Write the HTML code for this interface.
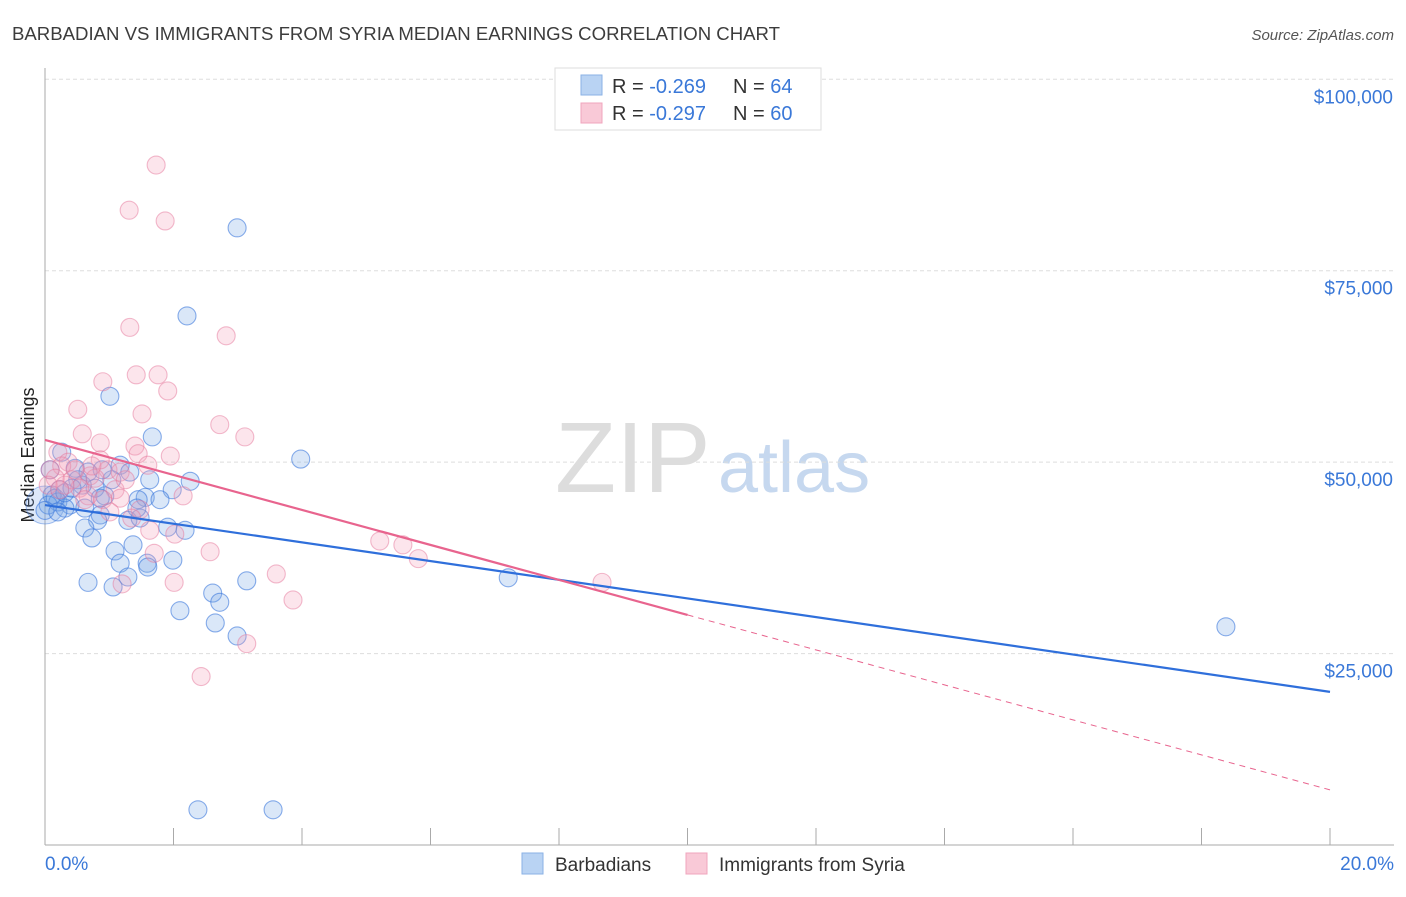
<!DOCTYPE html>
<html><head><meta charset="utf-8"><style>
body{margin:0;background:#fff;font-family:"Liberation Sans",sans-serif}
svg text{font-family:"Liberation Sans",sans-serif}
</style></head><body>
<svg id="chart" width="1406" height="892">
<text x="12" y="40" font-size="18" fill="#3c3c3c" textLength="768" lengthAdjust="spacingAndGlyphs">BARBADIAN VS IMMIGRANTS FROM SYRIA MEDIAN EARNINGS CORRELATION CHART</text>
<text x="1394" y="40" font-size="15" fill="#555" font-style="italic" text-anchor="end">Source: ZipAtlas.com</text>
<text x="34" y="455" font-size="18" fill="#222" transform="rotate(-90 34 455)" text-anchor="middle">Median Earnings</text>
<g><text x="555" y="492" font-size="100" fill="#ddd" font-family="Liberation Serif">ZIP</text><text x="718" y="492" font-size="72" fill="#c6d8ef">atlas</text></g>
<g id="grid"></g><g id="pts"></g><g id="trends"></g>
<g>
<rect x="555" y="68" width="266" height="62" fill="#fff" stroke="#ddd"/>
<rect x="581" y="75" width="21" height="20" fill="#b9d3f3" stroke="#8ab2e6"/>
<rect x="581" y="103" width="21" height="20" fill="#f9c9d7" stroke="#f0a5bd"/>
<text x="612" y="93" font-size="20" fill="#333">R = <tspan fill="#3a78d8">-0.269</tspan></text>
<text x="733" y="93" font-size="20" fill="#333">N = <tspan fill="#3a78d8">64</tspan></text>
<text x="612" y="120" font-size="20" fill="#333">R = <tspan fill="#3a78d8">-0.297</tspan></text>
<text x="733" y="120" font-size="20" fill="#333">N = <tspan fill="#3a78d8">60</tspan></text>
</g>
<g>
<rect x="522" y="853" width="21" height="21" fill="#b9d3f3" stroke="#8ab2e6"/>
<text x="555" y="871" font-size="19" fill="#333">Barbadians</text>
<rect x="686" y="853" width="21" height="21" fill="#f9c9d7" stroke="#f0a5bd"/>
<text x="719" y="871" font-size="19" fill="#333">Immigrants from Syria</text>
</g>
</svg>
<script>
const bx=[2.99,2.21,1.01,1.67,3.98,0.26,0.08,0.47,0.67,1.17,1.32,2.26,1.98,1.56,1.45,0.93,0.78,0.58,0.23,0.11,0.20,0.39,0.31,0.62,0.86,0.82,1.29,1.48,2.18,1.91,0.62,0.73,1.37,1.09,1.17,1.59,1.60,1.99,1.29,0.67,1.06,2.61,2.72,2.10,3.14,2.65,2.99,7.21,18.38,2.38,3.55,0.05,0.16,0.51,1.04,1.79,0.31,0.42,0.86,0.89,1.43,1.63,0,0.20];
const by=[80.6,69.1,58.6,53.3,50.4,51.3,49.0,49.2,48.7,49.6,48.7,47.5,46.4,45.4,45.1,45.6,46.6,47.0,46.4,45.7,44.8,44.4,44.0,44.0,43.1,42.4,42.4,42.7,41.1,41.5,41.4,40.1,39.2,38.4,36.8,36.8,36.3,37.2,35.0,34.3,33.7,32.9,31.7,30.6,34.5,29.0,27.3,34.9,28.5,4.6,4.6,44.4,45.3,47.7,47.7,45.1,46.0,46.6,45.3,49.0,44.0,47.7,43.7,43.5];
const px=[1.73,1.31,1.87,2.82,1.32,0.90,1.42,1.76,1.91,0.51,1.51,0.58,2.72,3.11,0.86,1.40,0.20,0.36,0.26,1.45,1.95,1.60,0.98,1.17,0.70,0.78,0.08,0.16,0.05,0.42,0.54,1.09,0.67,1.17,0.90,2.15,1.48,1.35,1.01,1.63,2.02,1.70,2.57,5.21,5.57,5.81,8.67,3.60,2.01,1.20,3.86,3.14,2.43,0.31,0.47,0.23,0.86,1.25,0.73,0.62];
const py=[88.8,82.9,81.5,66.5,67.6,60.5,61.4,61.4,59.3,56.9,56.3,53.7,54.9,53.3,52.5,52.1,51.3,50.0,49.5,51.1,50.8,49.6,49.0,48.7,48.2,47.9,49.0,47.9,47.0,47.7,46.6,46.4,45.6,45.3,45.1,45.6,43.8,42.7,43.5,41.1,40.6,38.1,38.3,39.7,39.2,37.4,34.3,35.4,34.3,34.1,32.0,26.3,22.0,47.0,49.0,46.4,50.3,47.7,49.5,45.1];
const yTicks=[25,50,75,100];
const yTickLabels=["$25,000","$50,000","$75,000","$100,000"];
const blueTrend=[44.4,20.0];
const pinkTrend=[52.9,7.2];
const NS="http://www.w3.org/2000/svg";
const X=v=>45+v*64.25, Y=v=>845-v*7.657;
function mk(t,a,p){const e=document.createElementNS(NS,t);for(const k in a)e.setAttribute(k,a[k]);p.appendChild(e);return e;}
const g=document.getElementById('grid');
yTicks.forEach((t,i)=>{
 const l=mk('line',{x1:45,x2:1394,y1:Y(t),y2:Y(t),stroke:'#ddd','stroke-dasharray':'4,3'},g);
 
 
 const tx=mk('text',{x:1393,y:Y(t)+24,'font-size':19,fill:'#3a78d8','text-anchor':'end'},g);
 tx.textContent=yTickLabels[i];
 
 
});
mk('line',{x1:45,x2:45,y1:68,y2:845,stroke:'#aaa'},g);
mk('line',{x1:45,x2:1394,y1:845,y2:845,stroke:'#aaa'},g);
for(let i=0;i<=10;i++){const xx=X(i*2);mk('line',{x1:xx,x2:xx,y1:828,y2:845,stroke:'#aaa'},g);}
const t0=mk('text',{x:45,y:870,'font-size':19,fill:'#3a78d8'},g);t0.textContent='0.0%';


const t1=mk('text',{x:1394,y:870,'font-size':19,fill:'#3a78d8','text-anchor':'end'},g);t1.textContent='20.0%';


const P=document.getElementById('pts');
const big=mk('circle',{cx:X(0),cy:Y(44.4),r:19,fill:'rgba(120,165,230,0.25)',stroke:'rgba(60,120,220,0.45)'},P);


bx.forEach((v,i)=>{const c=mk('circle',{cx:X(v),cy:Y(by[i]),r:9,fill:'rgba(120,165,230,0.27)',stroke:'rgba(60,120,220,0.6)','stroke-width':1.1},P);
 
 });
px.forEach((v,i)=>{const c=mk('circle',{cx:X(v),cy:Y(py[i]),r:9,fill:'rgba(245,160,185,0.27)',stroke:'rgba(230,120,155,0.5)','stroke-width':1.1},P);
 
 });
const T=document.getElementById('trends');
const bl=mk('line',{x1:X(0),y1:Y(blueTrend[0]),x2:X(20),y2:Y(blueTrend[1]),stroke:'#2f6fdb','stroke-width':2.2},T);


const pm=v=>pinkTrend[0]+(pinkTrend[1]-pinkTrend[0])*v/20;
const pl=mk('line',{x1:X(0),y1:Y(pm(0)),x2:X(10),y2:Y(pm(10)),stroke:'#e8648e','stroke-width':2.2},T);


const pd=mk('line',{x1:X(10),y1:Y(pm(10)),x2:X(20),y2:Y(pm(20)),stroke:'#e8648e','stroke-width':1,'stroke-dasharray':'6,5'},T);


</script>
</body></html>
